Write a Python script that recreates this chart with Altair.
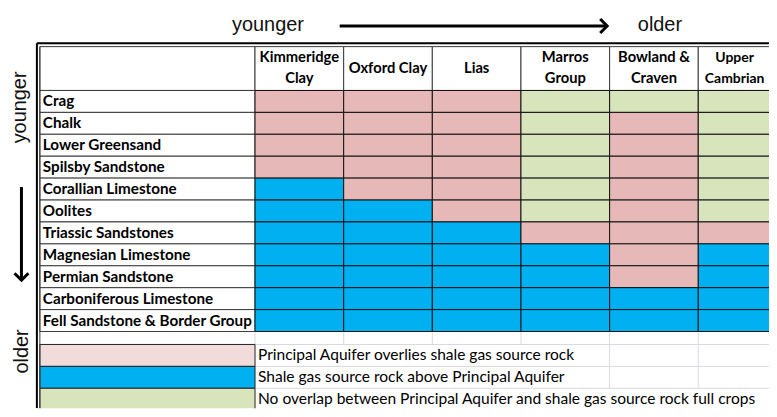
import altair as alt
import pandas as pd

# ---------------- data ----------------
rows = ["Crag", "Chalk", "Lower Greensand", "Spilsby Sandstone", "Corallian Limestone",
        "Oolites", "Triassic Sandstones", "Magnesian Limestone", "Permian Sandstone",
        "Carboniferous Limestone", "Fell Sandstone & Border Group"]
cols = ["Kimmeridge Clay", "Oxford Clay", "Lias", "Marros Group", "Bowland & Craven", "Upper Cambrian"]
header_lines = [["Kimmeridge", "Clay"], ["Oxford Clay"], ["Lias"], ["Marros", "Group"],
                ["Bowland &", "Craven"], ["Upper", "Cambrian"]]
# P = aquifer overlies source rock, B = source rock above aquifer, G = no overlap
cells = [
    ["P", "P", "P", "G", "G", "G"],
    ["P", "P", "P", "G", "P", "G"],
    ["P", "P", "P", "G", "P", "G"],
    ["P", "P", "P", "G", "P", "G"],
    ["B", "P", "P", "G", "P", "G"],
    ["B", "B", "P", "G", "P", "G"],
    ["B", "B", "B", "P", "P", "P"],
    ["B", "B", "B", "B", "P", "B"],
    ["B", "B", "B", "B", "P", "B"],
    ["B", "B", "B", "B", "B", "B"],
    ["B", "B", "B", "B", "B", "B"],
]
legend_codes = ["L", "B", "G"]
legend_texts = ["Principal Aquifer overlies shale gas source rock",
                "Shale gas source rock above Principal Aquifer",
                "No overlap between Principal Aquifer and shale gas source rock full crops"]
code_domain = ["P", "L", "B", "G"]
code_colors = ["#E6B8B7", "#F2DCDB", "#00B0F0", "#D8E4BC"]

# ---------------- layout (column / row units) ----------------
COL_PX, ROW_PX = 89.0, 22.0
LABEL_U = 216.0 / COL_PX          # label column width in column units
X0, X1 = (8 - 253) / COL_PX, (769 - 253) / COL_PX
Y0, Y1 = (8 - 90) / ROW_PX, (409 - 90) / ROW_PX
W, H = 761, 401
nrows = len(rows)
ncols = len(cols)
BLANK = nrows                      # empty spreadsheet row
BLANK_H = 13.0 / ROW_PX            # (slightly squeezed so the legend fits)
LEG0 = nrows + BLANK_H             # first legend row

XS = alt.Scale(domain=[X0, X1], nice=False, zero=False)
YS = alt.Scale(domain=[Y0, Y1], nice=False, zero=False, reverse=True)


def X(f):
    return alt.X(f, type="quantitative", scale=XS, axis=None)


def Y(f):
    return alt.Y(f, type="quantitative", scale=YS, axis=None)


LBL_FONT = "Lato"
# ---------------- frames ----------------
cell_df = pd.DataFrame([
    {"row": rows[r], "col": cols[c], "code": cells[r][c],
     "x0": c, "x1": c + 1, "y0": r, "y1": r + 1}
    for r in range(nrows) for c in range(ncols)
])

label_cells = pd.DataFrame(
    [{"x0": -LABEL_U, "x1": 0, "y0": -2, "y1": 0}] +
    [{"x0": -LABEL_U, "x1": 0, "y0": r, "y1": r + 1} for r in range(nrows)] +
    [{"x0": c, "x1": c + 1, "y0": -2, "y1": 0} for c in range(ncols)]
)

label_text = pd.DataFrame([{"label": rows[r], "x": -LABEL_U, "y": r + 0.5} for r in range(nrows)])

hdr = []
for c, lines in enumerate(header_lines):
    n = len(lines)
    for i, ln in enumerate(lines):
        hdr.append({"label": ln, "c": c, "x": c + 0.5, "y": -2 + (i + 0.5) * 2.0 / n})
hdr_df = pd.DataFrame(hdr)

leg_df = pd.DataFrame([
    {"code": legend_codes[i], "text": legend_texts[i], "x0": -LABEL_U, "x1": 0,
     "y0": LEG0 + i, "y1": LEG0 + i + 1, "ty": LEG0 + i + 0.5, "tx": 0}
    for i in range(len(legend_codes))
])

# faint spreadsheet gridlines in the empty area
faint = []
for c in range(0, ncols + 1):
    faint.append({"x": c, "x2": c, "y": BLANK, "y2": LEG0})
for c in range(4, ncols + 1):
    faint.append({"x": c, "x2": c, "y": LEG0, "y2": LEG0 + 2})
for k in range(4):
    faint.append({"x": 0, "x2": ncols, "y": LEG0 + k, "y2": LEG0 + k})
faint_df = pd.DataFrame(faint)

# ---------------- layers ----------------
label_rects = alt.Chart(label_cells).mark_rect(fill="white", stroke="#3a3a3a", strokeWidth=1, clip=True).encode(
    x=X("x0"), x2=alt.X2("x1"), y=Y("y0"), y2=alt.Y2("y1"))

faint_rules = alt.Chart(faint_df).mark_rule(color="#D6D9DF", strokeWidth=1, clip=True).encode(
    x=X("x"), x2=alt.X2("x2"), y=Y("y"), y2=alt.Y2("y2"))

color_enc = alt.Color("code:N", scale=alt.Scale(domain=code_domain, range=code_colors), legend=None)

heat = alt.Chart(cell_df).mark_rect(stroke="#111111", strokeWidth=1, clip=True).encode(
    x=X("x0"), x2=alt.X2("x1"), y=Y("y0"), y2=alt.Y2("y1"), color=color_enc)

row_labels = alt.Chart(label_text).mark_text(
    align="left", baseline="middle", dx=3, font=LBL_FONT, fontWeight="bold", fontSize=15.3,
    color="black", clip=True).encode(x=X("x"), y=Y("y"), text="label:N")

hdr_labels = alt.Chart(hdr_df).transform_filter(f"datum.c < {ncols - 1}").mark_text(
    align="center", baseline="middle", font=LBL_FONT, fontWeight="bold", fontSize=14.8,
    color="black", clip=True).encode(x=X("x"), y=Y("y"), text="label:N")

# last column is cut by the page edge: keep its header inside the visible part
hdr_last = alt.Chart(hdr_df).transform_filter(f"datum.c == {ncols - 1}").mark_text(
    align="center", baseline="middle", font=LBL_FONT, fontWeight="bold", fontSize=14.0, dx=-8,
    color="black", clip=True).encode(x=X("x"), y=Y("y"), text="label:N")

leg_rects = alt.Chart(leg_df).mark_rect(stroke="#222222", strokeWidth=1, clip=True).encode(
    x=X("x0"), x2=alt.X2("x1"), y=Y("y0"), y2=alt.Y2("y1"), color=color_enc)

leg_text = alt.Chart(leg_df).mark_text(
    align="left", baseline="middle", dx=3, font=LBL_FONT, fontSize=15.6, color="black", clip=True
).encode(x=X("tx"), y=Y("ty"), text="text:N")

# table outer double border
LEFT_OUT = (34 - 253) / COL_PX
TOP_OUT = (42.5 - 90) / ROW_PX
border_df = pd.DataFrame([
    {"x": LEFT_OUT, "x2": LEFT_OUT, "y": TOP_OUT, "y2": Y1},
    {"x": LEFT_OUT, "x2": X1, "y": TOP_OUT, "y2": TOP_OUT},
])
inner_df = pd.DataFrame([{"x": -LABEL_U, "x2": -LABEL_U, "y": -2, "y2": Y1}])
outer_border = alt.Chart(border_df).mark_rule(color="black", strokeWidth=2, clip=True).encode(
    x=X("x"), x2=alt.X2("x2"), y=Y("y"), y2=alt.Y2("y2"))
inner_border = alt.Chart(inner_df).mark_rule(color="#3a3a3a", strokeWidth=1, clip=True).encode(
    x=X("x"), x2=alt.X2("x2"), y=Y("y"), y2=alt.Y2("y2"))

# annotations: younger -> older (columns) and younger -> older (rows)
ann_top = pd.DataFrame([
    {"t": "younger", "x": (266 - 253) / COL_PX, "y": (30 - 90) / ROW_PX},
    {"t": "older", "x": (659.5 - 253) / COL_PX, "y": (30 - 90) / ROW_PX},
])
ann_top_text = alt.Chart(ann_top).mark_text(
    align="center", baseline="alphabetic", font="Liberation Sans", fontSize=20, color="#111111"
).encode(x=X("x"), y=Y("y"), text="t:N")

ann_left = pd.DataFrame([
    {"t": "younger", "x": (17.5 - 253) / COL_PX, "y": (107 - 90) / ROW_PX},
    {"t": "older", "x": (19.5 - 253) / COL_PX, "y": (352 - 90) / ROW_PX},
])
ann_left_text = alt.Chart(ann_left).mark_text(
    align="center", baseline="middle", angle=270, font="Liberation Sans", fontSize=20, color="#111111"
).encode(x=X("x"), y=Y("y"), text="t:N")

shafts = pd.DataFrame([
    {"x": (338 - 253) / COL_PX, "x2": (605 - 253) / COL_PX,
     "y": (25.3 - 90) / ROW_PX, "y2": (25.3 - 90) / ROW_PX},
    {"x": (18.5 - 253) / COL_PX, "x2": (18.5 - 253) / COL_PX,
     "y": (187 - 90) / ROW_PX, "y2": (279 - 90) / ROW_PX},
])
shaft_rules = alt.Chart(shafts).mark_rule(color="black", strokeWidth=3).encode(
    x=X("x"), x2=alt.X2("x2"), y=Y("y"), y2=alt.Y2("y2"))

head_right = alt.Chart(pd.DataFrame([{"x": (606.5 - 253) / COL_PX, "y": (25.3 - 90) / ROW_PX}])).mark_point(
    shape="M-1,-1L0,0L-1,1", filled=False, size=196, strokeWidth=3, color="black", opacity=1
).encode(x=X("x"), y=Y("y"))
head_down = alt.Chart(pd.DataFrame([{"x": (18.5 - 253) / COL_PX, "y": (280.5 - 90) / ROW_PX}])).mark_point(
    shape="M-1,-1L0,0L1,-1", filled=False, size=196, strokeWidth=3, color="black", opacity=1
).encode(x=X("x"), y=Y("y"))

chart = alt.layer(
    label_rects, faint_rules, heat, leg_rects, inner_border, outer_border,
    row_labels, hdr_labels, hdr_last, leg_text,
    ann_top_text, ann_left_text, shaft_rules, head_right, head_down
).properties(
    width=W, height=H, padding={"left": 0, "top": 0, "right": 0, "bottom": 0},
    background="white"
).configure_view(stroke="transparent")

chart.save("out.html", embed_options={"renderer": "svg", "actions": False})
